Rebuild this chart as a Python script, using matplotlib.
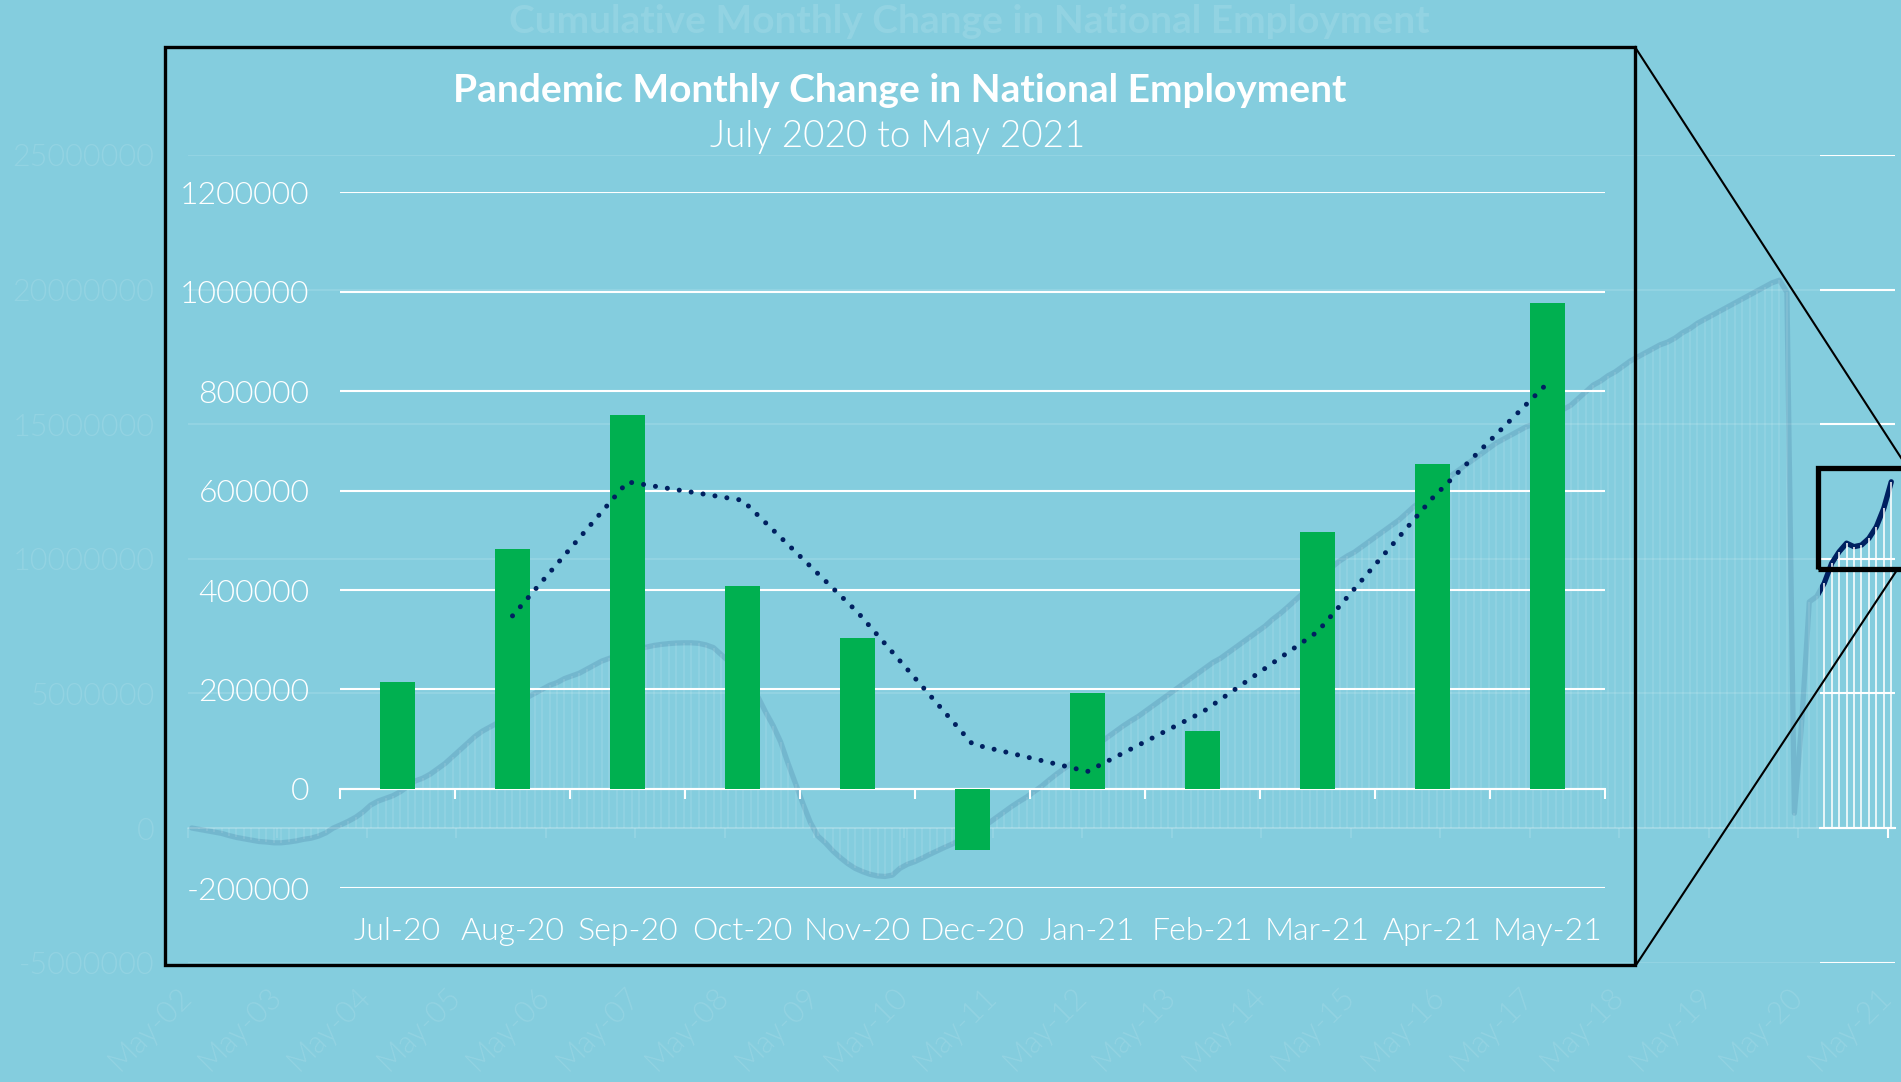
import numpy as np
import pandas as pd
import matplotlib
matplotlib.use('Agg')
import matplotlib.pyplot as plt
from matplotlib.patches import Rectangle
from matplotlib.lines import Line2D
from matplotlib.colors import to_rgba
from matplotlib.ticker import FuncFormatter

# ---------------- data ----------------
# inset: monthly change in employment
months = ['Jul-20', 'Aug-20', 'Sep-20', 'Oct-20', 'Nov-20', 'Dec-20',
          'Jan-21', 'Feb-21', 'Mar-21', 'Apr-21', 'May-21']
monthly_change = [214000, 482000, 753000, 408000, 303000, -123000,
                  193000, 116000, 516000, 654000, 978000]
inset_yticks = [-200000, 0, 200000, 400000, 600000, 800000, 1000000, 1200000]

# background: cumulative change since May-02 (millions), one row per May..Apr
cum_change_m = [
    0.00, -0.05, -0.10, -0.15, -0.20, -0.28, -0.35, -0.40, -0.45, -0.50, -0.52, -0.55,
    -0.55, -0.52, -0.48, -0.42, -0.38, -0.30, -0.18, 0.00, 0.12, 0.25, 0.40, 0.60,
    0.85, 1.00, 1.10, 1.20, 1.35, 1.55, 1.75, 1.85, 2.00, 2.20, 2.40, 2.65,
    2.90, 3.15, 3.40, 3.60, 3.75, 3.90, 4.10, 4.35, 4.60, 4.85, 5.00, 5.15,
    5.30, 5.40, 5.55, 5.65, 5.75, 5.90, 6.05, 6.20, 6.30, 6.40, 6.50, 6.60,
    6.65, 6.72, 6.78, 6.82, 6.85, 6.87, 6.88, 6.88, 6.86, 6.80, 6.70, 6.45,
    6.20, 5.95, 5.60, 5.20, 4.85, 4.30, 3.80, 3.20, 2.40, 1.65, 0.90, 0.20,
    -0.30, -0.55, -0.85, -1.10, -1.32, -1.50, -1.62, -1.72, -1.78, -1.80, -1.75, -1.50,
    -1.35, -1.25, -1.12, -0.98, -0.85, -0.72, -0.60, -0.45, -0.30, -0.15, 0.00, 0.20,
    0.40, 0.60, 0.80, 0.98, 1.15, 1.35, 1.55, 1.78, 2.00, 2.20, 2.40, 2.60,
    2.80, 3.00, 3.20, 3.40, 3.60, 3.80, 3.98, 4.15, 4.35, 4.55, 4.75, 4.95,
    5.15, 5.35, 5.55, 5.75, 5.95, 6.15, 6.30, 6.50, 6.70, 6.90, 7.10, 7.30,
    7.50, 7.75, 7.96, 8.20, 8.45, 8.70, 8.95, 9.20, 9.45, 9.70, 9.92, 10.10,
    10.25, 10.45, 10.65, 10.85, 11.05, 11.25, 11.45, 11.70, 11.95, 12.15, 12.40, 12.65,
    12.90, 13.10, 13.30, 13.50, 13.70, 13.90, 14.10, 14.30, 14.45, 14.60, 14.75, 14.90,
    15.00, 15.15, 15.30, 15.45, 15.55, 15.70, 15.95, 16.20, 16.45, 16.60, 16.80, 16.95,
    17.15, 17.35, 17.50, 17.65, 17.80, 17.95, 18.05, 18.20, 18.40, 18.55, 18.75, 18.90,
    19.05, 19.20, 19.35, 19.50, 19.65, 19.80, 19.95, 20.10, 20.25, 20.35, 19.90, 0.55,
    4.00, 8.40, 8.60, 9.09, 9.83, 10.26, 10.58, 10.45, 10.51, 10.76, 11.19, 11.88,
    12.86,
]
bg_yticks = [-5000000, 0, 5000000, 10000000, 15000000, 20000000, 25000000]
bg_year_labels = ['May-%02d' % yr for yr in range(2, 22)]

# ---------------- style ----------------
W, H = 1901, 1082
BG = '#84CDDE'
NAVY = '#002060'
GREEN = '#00B050'
FAINT = 0.12
LIGHT = 300   # Lato Light

plt.rcParams['font.family'] = ['Lato', 'DejaVu Sans']
plt.rcParams['font.weight'] = LIGHT


def px_box(left, top, right, bottom):
    # pixel box (from top-left) -> figure fraction rect
    return [left / W, 1 - bottom / H, (right - left) / W, (bottom - top) / H]


def draw_cumulative(ax, alpha, show_labels):
    white = to_rgba('white', alpha)
    x = np.arange(len(cum_change_m))
    y = np.array(cum_change_m) * 1e6
    ax.set_facecolor('none')
    ax.plot(x, y, color=NAVY, alpha=alpha, lw=3.8, solid_joinstyle='round',
            solid_capstyle='round', zorder=3)
    ax.vlines(x, 0, y, colors=[white], lw=1.1, zorder=4)
    ax.set_ylim(bg_yticks[0], bg_yticks[-1])
    ax.set_yticks(bg_yticks)
    ax.yaxis.set_major_formatter(FuncFormatter(lambda v, p: '%d' % v))
    ax.grid(axis='y', color='white', alpha=alpha, lw=1.5)
    ax.set_axisbelow(True)
    for s in ['top', 'right', 'left']:
        ax.spines[s].set_visible(False)
    ax.spines['bottom'].set_position(('data', 0))
    ax.spines['bottom'].set_color(white)
    ax.spines['bottom'].set_linewidth(1.5)
    ax.set_xticks(np.arange(0, len(x), 12) - 0.5)
    ax.tick_params(axis='x', direction='out', length=7, width=1.5, color=white,
                   pad=111, labelsize=22, labelcolor=white, labelbottom=show_labels)
    ax.tick_params(axis='y', length=0, pad=24, labelsize=22, labelcolor=white,
                   labelleft=show_labels)
    if show_labels:
        ax.set_xticklabels(bg_year_labels, rotation=45, ha='right',
                           rotation_mode='anchor', va='center')


fig = plt.figure(figsize=(W / 100, H / 100), dpi=100, facecolor=BG)

# faded background chart
bg = fig.add_axes(px_box(188, 155, 1895, 962.6))
draw_cumulative(bg, FAINT, True)
bg.set_xlim(-0.5, len(cum_change_m) - 0.5)
fig.text(969 / W, 1 - 33 / H, 'Cumulative Monthly Change in National Employment',
         color=to_rgba('white', FAINT), ha='center', va='baseline', fontsize=28, weight='bold')

# full-opacity strip of the background at the right edge
strip_left = 1820
x_strip = bg.transData.inverted().transform(fig.transFigure.transform((strip_left / W, 0.5)))[0]
strip = fig.add_axes(px_box(strip_left, 155, 1895, 962.6))
draw_cumulative(strip, 1.0, False)
strip.set_xlim(x_strip, len(cum_change_m) - 0.5)

# inset chart
ax = fig.add_axes(px_box(340, 192.3, 1605, 888.3))
ax.set_facecolor('none')
xc = np.arange(len(months))
ax.bar(xc, monthly_change, width=0.31, color=GREEN, zorder=3)
trend = pd.Series(monthly_change).rolling(2).mean()
ax.plot(xc, trend, color=NAVY, lw=3.6, ls=(0, (0.01, 2.4)),
        dash_capstyle='round', zorder=4)
ax.set_xlim(-0.5, len(months) - 0.5)
ax.set_ylim(inset_yticks[0], inset_yticks[-1])
ax.set_yticks(inset_yticks)
ax.yaxis.set_major_formatter(FuncFormatter(lambda v, p: '%d' % v))
ax.grid(axis='y', color='white', lw=1.5)
ax.set_axisbelow(True)
for s in ['top', 'right', 'left']:
    ax.spines[s].set_visible(False)
ax.spines['bottom'].set_position(('data', 0))
ax.spines['bottom'].set_color('white')
ax.spines['bottom'].set_linewidth(1.5)
ax.set_xticks(xc)
ax.set_xticklabels(months)
ax.set_xticks(np.arange(len(months) + 1) - 0.5, minor=True)
ax.tick_params(axis='x', which='major', length=0, pad=92, labelsize=23, labelcolor='white')
ax.tick_params(axis='x', which='minor', length=7, width=1.5, color='white', direction='out')
ax.tick_params(axis='y', length=0, pad=22, labelsize=23, labelcolor='white')

fig.text(900 / W, 1 - 101.7 / H, 'Pandemic Monthly Change in National Employment',
         color='white', ha='center', va='baseline', fontsize=28, weight='bold')
fig.text(898 / W, 1 - 146.7 / H, 'July 2020 to May 2021',
         color='white', ha='center', va='baseline', fontsize=26.5)

# inset frame, zoom box and connector lines (pixel layout)
frame = Rectangle((165 / W, 1 - 965 / H), (1635 - 165) / W, (965 - 47) / H,
                  transform=fig.transFigure, fill=False, ec='black', lw=2.4)
zoom_box = Rectangle((1818 / W, 1 - 569 / H), (1906 - 1818) / W, (569 - 468) / H,
                     transform=fig.transFigure, fill=False, ec='black', lw=3.8)
fig.patches.extend([frame, zoom_box])
fig.lines.append(Line2D([1635 / W, 1907 / W], [1 - 47 / H, 1 - 467 / H],
                        transform=fig.transFigure, color='black', lw=1.5))
fig.lines.append(Line2D([1636 / W, 1897 / W], [1 - 965 / H, 1 - 570 / H],
                        transform=fig.transFigure, color='black', lw=1.5))

fig.savefig('out.png', dpi=100, facecolor=BG)
